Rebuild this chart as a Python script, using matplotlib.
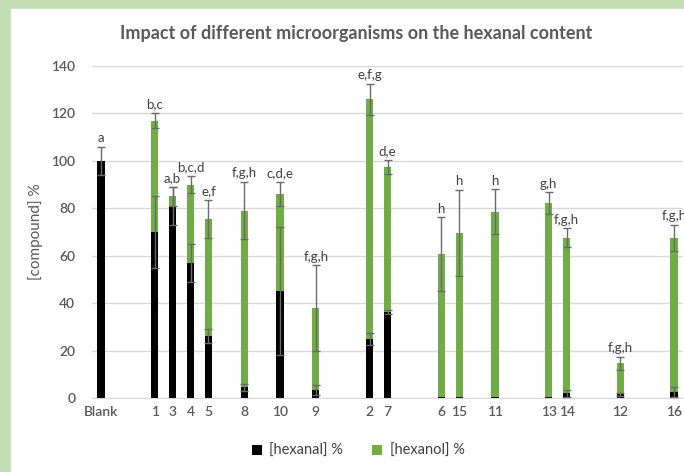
import matplotlib.pyplot as plt
import numpy as np

plt.rcParams['font.family'] = ['Lato', 'DejaVu Sans']

# sample labels and their slot on the x axis (gaps between groups)
samples = ['Blank', '1', '3', '4', '5', '8', '10', '9', '2', '7',
           '6', '15', '11', '13', '14', '12', '16']
slots = [0, 3, 4, 5, 6, 8, 10, 12, 15, 16, 19, 20, 22, 25, 26, 29, 32]

hexanal = [100, 70, 81, 57, 26, 4.5, 45, 3.4, 25, 36.3,
           0.3, 0.3, 0.3, 0.5, 2, 1.5, 2.5]
hexanal_err = [6, 15, 8, 8, 3, 1.5, 27, 2, 2.5, 1,
               0, 0, 0, 0, 1.5, 0.8, 2]
hexanol = [0, 47, 4, 33, 49.5, 74.5, 41, 34.5, 101, 61,
           60.4, 69.3, 78.2, 81.7, 65.5, 13.2, 65]
total_err = [0, 3, 4, 3.5, 8, 12, 5, 18, 6.5, 3,
             15.5, 18, 9.5, 4.5, 4, 2.7, 5.5]
letters = ['a', 'b,c', 'a,b', 'b,c,d', 'e,f', 'f,g,h', 'c,d,e', 'f,g,h', 'e,f,g', 'd,e',
           'h', 'h', 'h', 'g,h', 'f,g,h', 'f,g,h', 'f,g,h']

black = '#000000'
green = '#70ad47'
grey_txt = '#595959'
err_col = '#6a6a6a'

fig = plt.figure(figsize=(6.84, 4.72), dpi=100)
fig.patches.append(plt.Rectangle((0, 0), 1, 1, transform=fig.transFigure,
                                 color='#c5e0b4', zorder=-10))
fig.patches.append(plt.Rectangle((11 / 684, 0), 1, 1 - 9 / 472, transform=fig.transFigure,
                                 color='white', zorder=-9))
ax = fig.add_axes([92 / 684, 1 - 398 / 472, (683 - 92) / 684, (398 - 66) / 472])

x = np.array(slots)
hexanal = np.array(hexanal)
hexanol = np.array(hexanol)
total = hexanal + hexanol
w = 0.4

b1 = ax.bar(x, hexanal, w, color=black, label='[hexanal] %', zorder=2)
b2 = ax.bar(x, hexanol, w, bottom=hexanal, color=green, label='[hexanol] %', zorder=2)

# error bars on the hexanal part
he = np.array(hexanal_err)
m = he > 0
ax.errorbar(x[m], hexanal[m], yerr=he[m], fmt='none', ecolor=err_col,
            elinewidth=1, capsize=3, capthick=1, zorder=3)
# error bars on the total
te = np.array(total_err)
m = te > 0
ax.errorbar(x[m], total[m], yerr=te[m], fmt='none', ecolor=err_col,
            elinewidth=1, capsize=3, capthick=1, zorder=3)

for xi, top, e_tot, e_hal, hol, lab in zip(x, total, te, he, hexanol, letters):
    e = e_tot if hol > 0 else e_hal
    ax.annotate(lab, (xi, top + e), xytext=(0, 2), textcoords='offset points',
                ha='center', va='bottom', fontsize=9.5, color='#404040')

ax.set_xlim(-0.5, 32.5)
ax.set_ylim(0, 140)
ax.set_yticks(np.arange(0, 141, 20))
ax.set_xticks(slots)
ax.set_xticklabels(samples)
ax.grid(axis='y', color='#d9d9d9', linewidth=1, zorder=0)
ax.set_axisbelow(True)
for s in ['top', 'right', 'left']:
    ax.spines[s].set_visible(False)
ax.spines['bottom'].set_color('#d9d9d9')
ax.tick_params(axis='both', length=0, labelsize=10, colors=grey_txt, pad=6)
ax.tick_params(axis='y', pad=12)
for t in ax.get_xticklabels() + ax.get_yticklabels():
    t.set_fontweight('semibold')
ax.set_ylabel('[compound] %', fontsize=11, color=grey_txt, labelpad=6)

fig.text(356 / 684, 1 - 33 / 472, 'Impact of different microorganisms on the hexanal content',
         ha='center', va='center', fontsize=13, fontweight='bold', color=grey_txt)

fig.legend(handles=[b1, b2], loc='center', bbox_to_anchor=(358 / 684, 1 - 451 / 472),
           ncol=2, frameon=False, fontsize=10.5, handlelength=0.7, handleheight=0.7,
           columnspacing=2.0, handletextpad=0.5, labelcolor='#404040')

fig.savefig('out.png', dpi=100)
